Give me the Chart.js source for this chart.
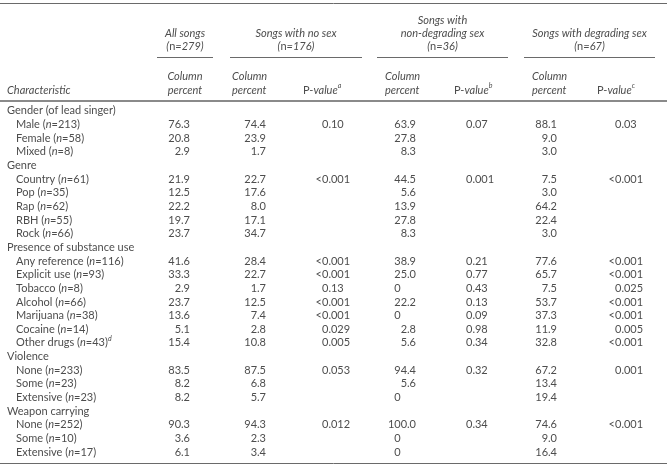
<!DOCTYPE html>
<html>
<head>
<meta charset="utf-8">
<script src="https://cdn.jsdelivr.net/npm/chart.js@4.4.1/dist/chart.umd.min.js"></script>
<style>
  html, body { margin: 0; padding: 0; background: #fff; }
  #wrap { width: 669px; height: 467px; }
</style>
</head>
<body>
<div id="wrap"><canvas id="tbl" width="669" height="467"></canvas></div>
<script>
// ---- table data ----
const groups = ['Gender (of lead singer)', 'Genre', 'Presence of substance use', 'Violence', 'Weapon carrying'];
const categories = ['Male', 'Female', 'Mixed',
  'Country', 'Pop', 'Rap', 'RBH', 'Rock',
  'Any reference', 'Explicit use', 'Tobacco', 'Alcohol', 'Marijuana', 'Cocaine', 'Other drugs',
  'None', 'Some', 'Extensive',
  'None', 'Some', 'Extensive'];
const groupOf = [0, 0, 0, 1, 1, 1, 1, 1, 2, 2, 2, 2, 2, 2, 2, 3, 3, 3, 4, 4, 4];
const counts = [213, 58, 8, 61, 35, 62, 55, 66, 116, 93, 8, 66, 38, 14, 43, 233, 23, 23, 252, 10, 17];
const footnoteMark = {14: 'd'};

const allPct    = [76.3, 20.8, 2.9, 21.9, 12.5, 22.2, 19.7, 23.7, 41.6, 33.3, 2.9, 23.7, 13.6, 5.1, 15.4, 83.5, 8.2, 8.2, 90.3, 3.6, 6.1];
const noSexPct  = [74.4, 23.9, 1.7, 22.7, 17.6, 8.0, 17.1, 34.7, 28.4, 22.7, 1.7, 12.5, 7.4, 2.8, 10.8, 87.5, 6.8, 5.7, 94.3, 2.3, 3.4];
const noSexP    = ['0.10', '', '', '<0.001', '', '', '', '', '<0.001', '<0.001', '0.13', '<0.001', '<0.001', '0.029', '0.005', '0.053', '', '', '0.012', '', ''];
const nonDegPct = [63.9, 27.8, 8.3, 44.5, 5.6, 13.9, 27.8, 8.3, 38.9, 25.0, 0, 22.2, 0, 2.8, 5.6, 94.4, 5.6, 0, 100.0, 0, 0];
const nonDegP   = ['0.07', '', '', '0.001', '', '', '', '', '0.21', '0.77', '0.43', '0.13', '0.09', '0.98', '0.34', '0.32', '', '', '0.34', '', ''];
const degPct    = [88.1, 9.0, 3.0, 7.5, 3.0, 64.2, 22.4, 3.0, 77.6, 65.7, 7.5, 53.7, 37.3, 11.9, 32.8, 67.2, 13.4, 19.4, 74.6, 9.0, 16.4];
const degP      = ['0.03', '', '', '<0.001', '', '', '', '', '<0.001', '<0.001', '0.025', '<0.001', '<0.001', '0.005', '<0.001', '0.001', '', '', '<0.001', '', ''];

const headTitles = [['All songs'], ['Songs with no sex'], ['Songs with', 'non-degrading sex'], ['Songs with degrading sex']];
const headN = [279, 176, 36, 67];
const pNotes = ['a', 'b', 'c'];

// ---- layout ----
const FONT = 'Lato, "Open Sans", sans-serif';
const SIZE = 11;
const INK = '#4d4d4d';
const RULE = '#6a6a6a';
const col = {label: 7, indent: 16, all: 190, noSexPct: 266, noSexP: 322, nonDegPct: 416, nonDegP: 466, degPct: 557, degP: 615};
const spans = [[157, 213], [230, 362], [377, 508], [524, 655]];

// rows: a group heading before each new group, then its items
const rows = [];
categories.forEach((c, i) => {
  if (i === 0 || groupOf[i] !== groupOf[i - 1]) rows.push({kind: 'group', g: groupOf[i]});
  rows.push({kind: 'item', i});
});
const rowKeys = rows.map((r, k) => 'r' + k);

const fmtPct = v => v === 0 ? '0' : v.toFixed(1);

function columnSet(name, x, values, kind) {
  const data = [], texts = [];
  rows.forEach((r, k) => {
    if (r.kind !== 'item') return;
    const v = values[r.i];
    if (v === '' || v === null) return;
    data.push({x, y: rowKeys[k]});
    texts.push(kind === 'pct' ? fmtPct(v) : v);
  });
  return {label: name, data, texts, cellKind: kind, pointRadius: 0, showLine: false};
}

const labelData = rows.map((r, k) => ({x: r.kind === 'group' ? col.label : col.indent, y: rowKeys[k]}));

const datasets = [
  {label: 'Characteristic', data: labelData, cellKind: 'label', pointRadius: 0},
  columnSet('All songs', col.all, allPct, 'pct'),
  columnSet('No sex %', col.noSexPct, noSexPct, 'pct'),
  columnSet('No sex P', col.noSexP, noSexP, 'p'),
  columnSet('Non-degrading %', col.nonDegPct, nonDegPct, 'pct'),
  columnSet('Non-degrading P', col.nonDegP, nonDegP, 'p'),
  columnSet('Degrading %', col.degPct, degPct, 'pct'),
  columnSet('Degrading P', col.degP, degP, 'p')
];

function font(italic, size) {
  return (italic ? 'italic ' : '') + (size || SIZE) + 'px ' + FONT;
}

// draw a run of [text, italic, superscript] pieces starting at x
function drawRuns(ctx, runs, x, y, align) {
  let total = 0;
  runs.forEach(r => { ctx.font = font(r[1], r[2] ? 7 : SIZE); total += ctx.measureText(r[0]).width; });
  let cx = align === 'center' ? x - total / 2 : align === 'right' ? x - total : x;
  ctx.textAlign = 'left';
  runs.forEach(r => {
    ctx.font = font(r[1], r[2] ? 7 : SIZE);
    ctx.fillText(r[0], cx, r[2] ? y - 4 : y);
    cx += ctx.measureText(r[0]).width;
  });
}

const tablePlugin = {
  id: 'tableText',
  afterDatasetsDraw(chart) {
    const ctx = chart.ctx;
    ctx.save();
    ctx.fillStyle = INK;
    ctx.textBaseline = 'middle';

    // body cells, positioned by the scales
    chart.data.datasets.forEach((ds, di) => {
      const meta = chart.getDatasetMeta(di);
      meta.data.forEach((pt, j) => {
        const x = pt.x, y = pt.y;
        if (ds.cellKind === 'label') {
          const r = rows[j];
          if (r.kind === 'group') {
            drawRuns(ctx, [[groups[r.g], false]], x, y, 'left');
          } else {
            const runs = [[categories[r.i] + ' (', false], ['n', true], ['=' + counts[r.i] + ')', false]];
            if (footnoteMark[r.i]) runs.push([footnoteMark[r.i], true, true]);
            drawRuns(ctx, runs, x, y, 'left');
          }
        } else if (ds.cellKind === 'pct') {
          const t = ds.texts[j];
          ctx.font = font(false);
          if (t === '0') {
            ctx.textAlign = 'left';
            ctx.fillText(t, x - ctx.measureText('00.0').width, y);
          } else {
            ctx.textAlign = 'right';
            ctx.fillText(t, x, y);
          }
        } else {
          const t = ds.texts[j];
          ctx.font = font(false);
          if (t[0] === '<') {
            ctx.textAlign = 'right';
            ctx.fillText('<', x, y);
            ctx.textAlign = 'left';
            ctx.fillText(t.slice(1), x, y);
          } else {
            ctx.textAlign = 'left';
            ctx.fillText(t, x, y);
          }
        }
      });
    });

    // header block
    const hc = spans.map(s => (s[0] + s[1]) / 2);
    headTitles.forEach((lines, i) => {
      const nY = 46;
      lines.forEach((ln, k) => {
        const y = nY - 13 * (lines.length - k);
        drawRuns(ctx, [[ln, true]], hc[i], y, 'center');
      });
      drawRuns(ctx, [['(', true], ['n', false], ['=' + headN[i] + ')', true]], hc[i], nY, 'center');
    });
    drawRuns(ctx, [['Characteristic', true]], col.label, 90, 'left');
    drawRuns(ctx, [['Column', true]], hc[0], 76, 'center');
    drawRuns(ctx, [['percent', true]], hc[0], 90, 'center');
    [spans[1][0] + 2, spans[2][0] + 8, spans[3][0] + 8].forEach(x => {
      drawRuns(ctx, [['Column', true]], x, 76, 'left');
      drawRuns(ctx, [['percent', true]], x, 90, 'left');
    });
    [303, 454, 597].forEach((x, i) => {
      drawRuns(ctx, [['P-', false], ['value', true], [pNotes[i], true, true]], x, 90, 'left');
    });

    // rules
    ctx.strokeStyle = RULE;
    ctx.lineWidth = 1;
    const hline = (x0, x1, y) => { ctx.beginPath(); ctx.moveTo(x0, y); ctx.lineTo(x1, y); ctx.stroke(); };
    hline(0, 667, 3.5);
    spans.forEach(s => hline(s[0], s[1], 57.5));
    ctx.strokeStyle = '#8a8a8a';
    ctx.lineWidth = 2;
    hline(0, 667, 101);
    ctx.strokeStyle = RULE;
    ctx.lineWidth = 1;
    hline(0, 667, 463.5);
    ctx.restore();
  }
};

new Chart(document.getElementById('tbl'), {
  type: 'scatter',
  data: {datasets},
  options: {
    responsive: false,
    animation: false,
    events: [],
    layout: {padding: {top: 104, bottom: 8, left: 0, right: 0}},
    plugins: {legend: {display: false}, tooltip: {enabled: false}},
    scales: {
      x: {type: 'linear', min: 0, max: 669, display: false},
      y: {type: 'category', labels: rowKeys, offset: true, display: false}
    }
  },
  plugins: [tablePlugin]
});
</script>
</body>
</html>
